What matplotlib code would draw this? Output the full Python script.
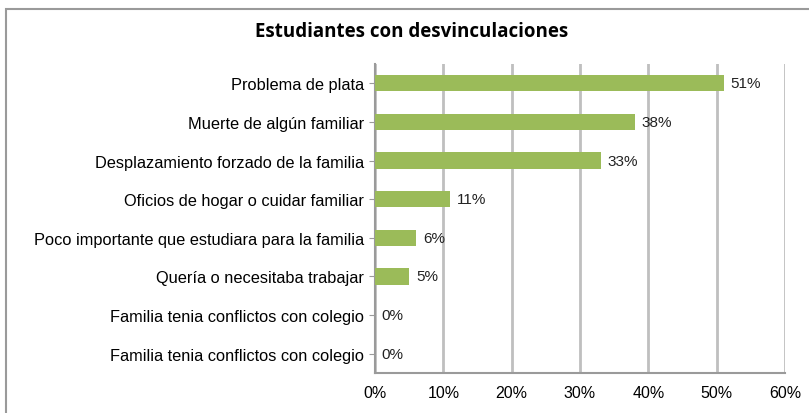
import numpy as np
import matplotlib.pyplot as plt
from matplotlib.patches import Rectangle

# data
categories = [
    'Problema de plata',
    'Muerte de algún familiar',
    'Desplazamiento forzado de la familia',
    'Oficios de hogar o cuidar familiar',
    'Poco importante que estudiara para la familia',
    'Quería o necesitaba trabajar',
    'Familia tenia conflictos con colegio',
    'Familia tenia conflictos con colegio',
]
values = [51, 38, 33, 11, 6, 5, 0, 0]
xticks = [0, 10, 20, 30, 40, 50, 60]

plt.rcParams['font.family'] = ['Liberation Sans', 'DejaVu Sans']

fig = plt.figure(figsize=(8.09, 4.14), dpi=100)

# outer chart frame
fig.patches.append(Rectangle((6 / 809, -0.05), 1.0, 1.05 - 10 / 414, transform=fig.transFigure,
                             fill=False, edgecolor='#9a9a9a', linewidth=1.5))

ax = fig.add_axes([375 / 809, 1 - 374 / 414, 410 / 809, 309 / 414])

y = np.arange(len(categories))
ax.barh(y, values, height=0.42, color='#9BBB59', zorder=3)
for yi, v in zip(y, values):
    ax.text(v + 1.0, yi, f'{v}%', va='center', ha='left', fontsize=11, color='#222222')

ax.set_xlim(0, 60)
ax.set_ylim(len(categories) - 0.5, -0.5)
ax.set_yticks(y)
ax.set_yticklabels(categories, fontsize=11.8)
ax.set_xticks(xticks)
ax.set_xticklabels([f'{t}%' for t in xticks], fontsize=11.5)
ax.tick_params(axis='x', length=0, pad=9)
ax.tick_params(axis='y', length=4, color='#9a9a9a', pad=4)

ax.grid(axis='x', color='#bfbfbf', linewidth=2, zorder=0)
for s in ['top', 'right']:
    ax.spines[s].set_visible(False)
ax.spines['left'].set_color('#9a9a9a')
ax.spines['left'].set_linewidth(1.5)
ax.spines['bottom'].set_color('#9a9a9a')
ax.spines['bottom'].set_linewidth(1.5)

fig.text(412 / 809, 1 - 32 / 414, 'Estudiantes con desvinculaciones', ha='center', va='center',
         fontsize=13.5, fontweight='bold', family=['Open Sans', 'DejaVu Sans'])

fig.savefig('out.png', dpi=100)
